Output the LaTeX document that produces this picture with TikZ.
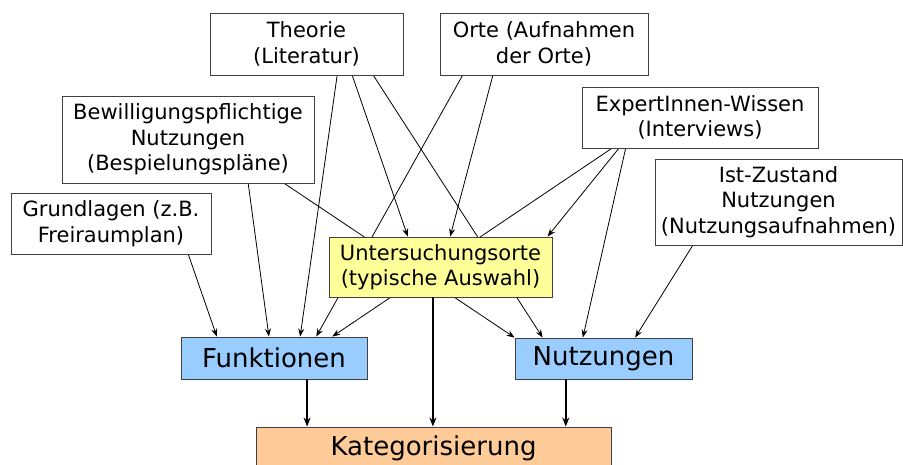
\documentclass[tikz,border=0pt]{standalone}
\usepackage{fontspec}
\setmainfont{DejaVu Sans}
\usetikzlibrary{arrows.meta,calc,backgrounds}
\definecolor{rahmenGrau}{HTML}{404040}
\definecolor{ortGelb}{HTML}{FFFF99}
\definecolor{ergebnisBlau}{HTML}{99CCFF}
\definecolor{katOrange}{HTML}{FFCC99}

\begin{document}
\begin{tikzpicture}[x=1pt,y=-1pt,
  kasten/.style={draw=rahmenGrau,line width=0.9pt,fill=white,align=center,inner sep=0pt,font=\fontsize{21}{25.5}\selectfont},
  gross/.style={kasten,font=\fontsize{26}{30}\selectfont},
  pfeil/.style={-{Stealth[length=8pt,width=6pt]},line width=0.8pt},
  dickpfeil/.style={-{Stealth[length=9pt,width=7pt]},line width=1.8pt}]
\useasboundingbox (0,0) rectangle (903,465);
\node[kasten,minimum width=193pt,minimum height=62pt] (theo) at (306.5,44) {Theorie\\(Literatur)};
\node[kasten,minimum width=208pt,minimum height=62pt] (orte) at (544,44) {Orte (Aufnahmen\\der Orte)};
\node[kasten,minimum width=252pt,minimum height=87pt] (bew) at (188,139.5) {Bewilligungspflichtige\\Nutzungen\\(Bespielungspläne)};
\node[kasten,minimum width=200pt,minimum height=61pt] (grund) at (111,223.5) {Grundlagen (z.B.\\Freiraumplan)};
\node[kasten,minimum width=236pt,minimum height=61pt] (expert) at (700,117.5) {ExpertInnen-Wissen\\(Interviews)};
\node[kasten,minimum width=247pt,minimum height=86pt] (ist) at (778.5,202) {Ist-Zustand\\Nutzungen\\(Nutzungsaufnahmen)};
\node[kasten,fill=ortGelb,minimum width=223pt,minimum height=60pt] (unters) at (440.5,267) {Untersuchungsorte\\(typische Auswahl)};
\node[gross,fill=ergebnisBlau,minimum width=186pt,minimum height=42pt] (funk) at (274,358) {Funktionen};
\node[gross,fill=ergebnisBlau,minimum width=177pt,minimum height=41pt] (nutz) at (603.5,358.5) {Nutzungen};
\node[gross,fill=katOrange,minimum width=355pt,minimum height=42pt] (kat) at (433.5,448) {Kategorisierung};

\begin{scope}[on background layer]
\foreach \a/\s/\b/\t in {theo/0.658/funk/0.64, theo/0.736/unters/0.354, theo/0.845/nutz/0.158,
    orte/0.11/funk/0.726, orte/0.255/unters/0.543, bew/0.738/funk/0.473, bew/0.881/nutz/0,
    grund/0.885/funk/0.194, expert/0.127/funk/0.812, expert/0.157/unters/0.978,
    expert/0.186/nutz/0.384, ist/0.154/nutz/0.678}
  \draw[pfeil] ($(\a.south west)!\s!(\a.south east)$) -- ($(\b.north west)!\t!(\b.north east)$);
\end{scope}
\foreach \q/\s in {funk/0.677, unters/0.466, nutz/0.288}
  \draw[dickpfeil] ($(\q.south west)!\s!(\q.south east)$) coordinate (ab) -- (ab |- kat.north);
\end{tikzpicture}
\end{document}
